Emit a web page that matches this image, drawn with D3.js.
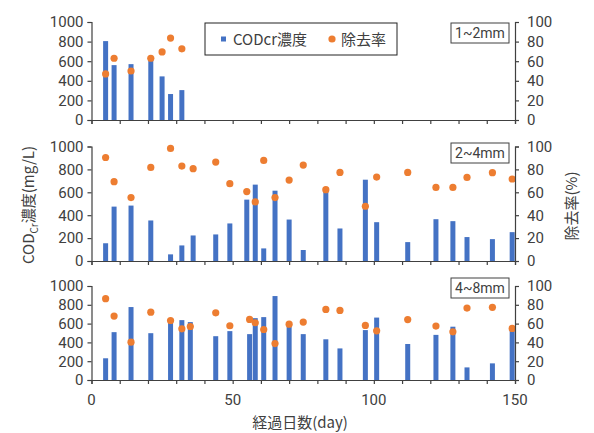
<!DOCTYPE html>
<html><head><meta charset="utf-8">
<script src="https://cdn.jsdelivr.net/npm/d3@7"></script>
<style>body{margin:0;background:#fff}svg{display:block}text{font-family:"Noto Sans CJK JP","Noto Sans",sans-serif}.num{font-family:Roboto,"Liberation Sans",sans-serif}</style>
</head><body><svg id="c" width="594" height="433"></svg>
<script>
const panelLabels = ["1~2mm", "2~4mm", "4~8mm"];
const days1 = [5, 8, 14, 21, 25, 28, 32];
const cod1 = [805, 560, 570, 620, 445, 265, 305];
const rate1 = [47, 63, 50, 63, 69.5, 83.6, 72.6];
const days2 = [5, 8, 14, 21, 28, 32, 36, 44, 49, 55, 58, 61, 65, 70, 75, 83, 88, 97, 101, 112, 122, 128, 133, 142, 149];
const cod2 = [155, 475, 484, 354, 58, 136, 223, 232, 328, 536, 667, 110, 614, 362, 96, 617, 284, 710, 339, 165, 365, 348, 209, 191, 252];
const rate2 = [90.4, 69.3, 55.4, 81.7, 98.3, 82.9, 80.6, 86.4, 67.5, 60.6, 51.6, 87.8, 55.4, 70.7, 83.8, 62.3, 77.4, 47.8, 73.3, 77.4, 64.3, 64.3, 73, 77.1, 71.6];
const days3 = [5, 8, 14, 21, 28, 32, 35, 44, 49, 56, 58, 61, 65, 70, 75, 83, 88, 97, 101, 112, 122, 128, 133, 142, 149];
const cod3 = [231, 509, 776, 498, 615, 637, 616, 466, 520, 488, 658, 669, 893, 570, 488, 433, 336, 531, 664, 383, 480, 567, 134, 177, 542];
const rate3 = [86.5, 68, 40.2, 72.2, 63.3, 54.4, 56.9, 71.5, 57.7, 64.4, 60.9, 53.7, 38.8, 59.4, 61.6, 75.1, 74, 58.1, 52.3, 64.3, 57.4, 51.3, 76.5, 77.3, 54.9];
const leftTicks = [0, 200, 400, 600, 800, 1000];
const rightTicks = [0, 20, 40, 60, 80, 100];
const xTicksMinor = d3.range(0, 151, 10);
const xTickLabels = [0, 50, 100, 150];
const legendLabels = ["CODcr濃度", "除去率"];
const xTitle = "経過日数(day)";
const yTitleParts = ["COD", "Cr", "濃度(mg/L)"];
const y2Title = "除去率(%)";

const BLUE = "#4472C4", ORANGE = "#ED7D31", AX = "#404040", TXT = "#404040";
const FS = "15px";
const svg = d3.select("#c");
svg.append("rect").attr("width", 594).attr("height", 433).attr("fill", "#fff");

const x = d3.scaleLinear().domain([0, 150]).range([91.5, 515]);
const panels = [
  {days: days1, cod: cod1, rate: rate1, top: 22, bottom: 120, label: panelLabels[0], ly: 23},
  {days: days2, cod: cod2, rate: rate2, top: 146.5, bottom: 261, label: panelLabels[1], ly: 143},
  {days: days3, cod: cod3, rate: rate3, top: 286, bottom: 380, label: panelLabels[2], ly: 278}
];

panels.forEach((p, i) => {
  const yL = d3.scaleLinear().domain([0, 1000]).range([p.bottom, p.top]);
  const yR = d3.scaleLinear().domain([0, 100]).range([p.bottom, p.top]);
  const g = svg.append("g");
  g.selectAll("rect.bar").data(p.days).join("rect")
    .attr("x", d => x(d) - 2.5).attr("width", 5)
    .attr("y", (d, j) => yL(p.cod[j])).attr("height", (d, j) => p.bottom - yL(p.cod[j]))
    .attr("fill", BLUE);
  g.selectAll("circle").data(p.days).join("circle")
    .attr("cx", d => x(d)).attr("cy", (d, j) => yR(p.rate[j])).attr("r", 3.6)
    .attr("fill", ORANGE);
  const la = g.append("g").attr("transform", `translate(${x(0)},0)`)
    .call(d3.axisLeft(yL).tickValues(leftTicks).tickSize(4).tickPadding(4).tickFormat(d3.format("d")));
  const ra = g.append("g").attr("transform", `translate(${x(150)},0)`)
    .call(d3.axisRight(yR).tickValues(rightTicks).tickSize(4).tickPadding(8).tickFormat(d3.format("d")));
  const xa = g.append("g").attr("transform", `translate(0,${p.bottom})`)
    .call(d3.axisBottom(x).tickValues(xTicksMinor).tickSize(4).tickFormat(""));
  [la, ra, xa].forEach(a => {
    a.attr("font-family", null);
    a.select(".domain").attr("stroke", AX).attr("stroke-width", 1.2);
    a.selectAll(".tick line").attr("stroke", AX).attr("stroke-width", 1.2);
    a.selectAll("text").attr("class", "num").attr("fill", TXT).style("font-size", FS);
  });
  const bx = 451, bw = 58, bh = 20;
  g.append("rect").attr("x", bx).attr("y", p.ly).attr("width", bw).attr("height", bh)
    .attr("fill", "#fff").attr("stroke", AX).attr("stroke-width", 1);
  g.append("text").attr("class", "num").attr("x", bx + bw / 2).attr("y", p.ly + bh / 2 + 5)
    .attr("text-anchor", "middle").attr("fill", TXT).style("font-size", "14px").text(p.label);
});

svg.append("g").selectAll("text").data(xTickLabels).join("text")
  .attr("class", "num").attr("x", d => x(d)).attr("y", 405).attr("text-anchor", "middle")
  .attr("fill", TXT).style("font-size", FS).text(d => d);

svg.append("text").attr("x", 300).attr("y", 428).attr("text-anchor", "middle")
  .attr("fill", TXT).style("font-size", "15px").text(xTitle);

const yt = svg.append("text").attr("transform", "translate(34,205) rotate(-90)")
  .attr("text-anchor", "middle").attr("fill", TXT).style("font-size", "15px");
yt.append("tspan").text(yTitleParts[0]);
yt.append("tspan").attr("dy", 4).style("font-size", "10px").text(yTitleParts[1]);
yt.append("tspan").attr("dy", -4).text(yTitleParts[2]);

svg.append("text").attr("transform", "translate(577,206) rotate(-90)")
  .attr("text-anchor", "middle").attr("fill", TXT).style("font-size", "15px").text(y2Title);

const lg = svg.append("g");
lg.append("rect").attr("x", 205).attr("y", 23).attr("width", 192).attr("height", 32)
  .attr("fill", "#fff").attr("stroke", "#222").attr("stroke-width", 1);
lg.append("rect").attr("x", 221).attr("y", 36.5).attr("width", 5).attr("height", 5).attr("fill", BLUE);
lg.append("text").attr("x", 233).attr("y", 44.5).attr("fill", TXT).style("font-size", "15px").text(legendLabels[0]);
lg.append("circle").attr("cx", 332).attr("cy", 39).attr("r", 3.6).attr("fill", ORANGE);
lg.append("text").attr("x", 341).attr("y", 44.5).attr("fill", TXT).style("font-size", "15px").text(legendLabels[1]);
</script></body></html>
